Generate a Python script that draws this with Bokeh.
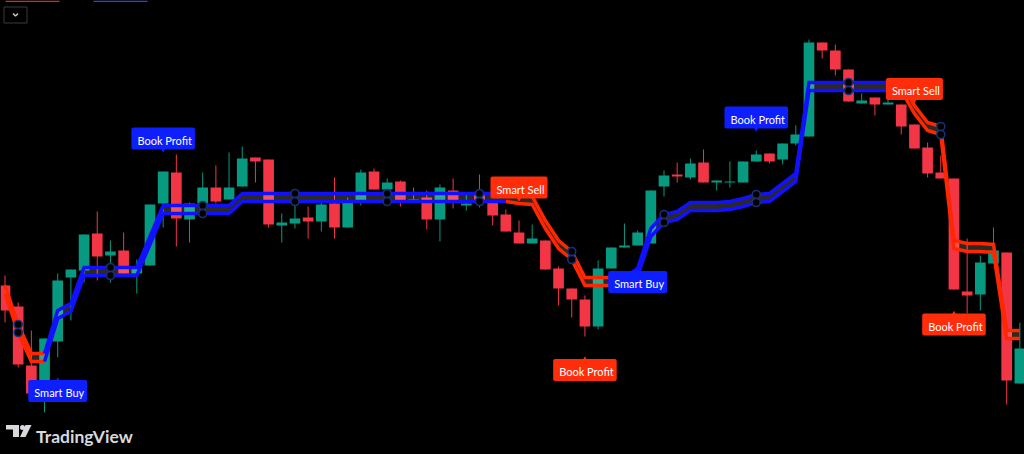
from bokeh.plotting import figure
from bokeh.models import Range1d, ColumnDataSource, GlobalInlineStyleSheet
from bokeh.core.properties import value
from bokeh.embed import file_html
from bokeh.resources import INLINE

# ---------------- data (price units) ----------------
opens = [169, 148, 89, 64, 113, 177, 184, 221, 199, 204,
         181, 189, 251, 282, 235, 251, 267, 255, 268, 297,
         295, 229, 231, 237, 233, 251, 227, 252, 283, 265,
         273, 255, 257, 235, 264, 249, 261, 254, 240, 222,
         211, 214, 186, 166, 155, 128, 186, 207, 209, 211,
         268, 280, 277, 292, 272, 272, 272, 293, 301, 295,
         311, 318, 412, 404, 385, 351, 357, 350, 350, 330,
         307, 282, 276, 163, 160, 191, 202, 71]
closes = [144, 90, 61, 116, 174, 185, 220, 198, 203, 181,
          187, 250, 283, 236, 251, 267, 253, 267, 296, 293,
          230, 232, 236, 233, 250, 227, 252, 282, 265, 272,
          253, 253, 235, 267, 254, 251, 253, 239, 223, 211,
          216, 185, 166, 155, 128, 186, 207, 209, 222, 264,
          279, 278, 291, 272, 274, 273, 293, 300, 293, 311,
          320, 412, 404, 385, 353, 354, 350, 352, 328, 306,
          281, 276, 165, 159, 192, 204, 74, 106]
highs = [179, 152, 124, 116, 181, 185, 220, 243, 214, 222,
         195, 250, 283, 300, 252, 282, 289, 302, 308, 297,
         295, 241, 249, 248, 252, 277, 257, 285, 286, 276,
         274, 267, 264, 270, 276, 261, 280, 254, 245, 234,
         230, 214, 188, 166, 159, 194, 207, 231, 224, 264,
         284, 292, 296, 305, 274, 293, 293, 304, 301, 311,
         329, 415, 412, 410, 385, 361, 357, 355, 350, 330,
         312, 299, 276, 216, 199, 227, 202, 132]
lows = [132, 87, 58, 42, 97, 134, 172, 174, 172, 181,
        161, 189, 227, 208, 212, 241, 251, 255, 268, 272,
        227, 212, 226, 216, 223, 216, 227, 249, 265, 265,
        248, 253, 225, 213, 246, 244, 247, 229, 223, 211,
        211, 185, 149, 137, 118, 125, 186, 207, 209, 211,
        258, 272, 275, 272, 264, 267, 272, 293, 291, 290,
        309, 318, 396, 379, 353, 351, 339, 350, 320, 306,
        277, 276, 165, 141, 144, 191, 50, 71]

# trailing stop (upper line) and trend (+1 long / -1 short)
stop = [169, 130, 101, 101, 144, 151, 187, 187, 187, 187,
        187, 218, 249, 249, 249, 249, 249, 249, 261, 261,
        261, 261, 261, 261, 261, 261, 261, 261, 261, 261,
        261, 261, 261, 261, 261, 261, 261, 261, 261, 259,
        258, 234, 214, 203, 177, 177, 177, 177, 186, 226,
        240, 243, 252, 252, 252, 253, 256, 260, 261, 271,
        281, 372, 372, 372, 372, 372, 372, 372, 372, 349,
        332, 328, 214, 211, 211, 210, 124, 124]
trend = [-1, -1, -1, -1, 1, 1, 1, 1, 1, 1,
         1, 1, 1, 1, 1, 1, 1, 1, 1, 1,
         1, 1, 1, 1, 1, 1, 1, 1, 1, 1,
         1, 1, 1, 1, 1, 1, 1, 1, 1, -1,
         -1, -1, -1, -1, -1, -1, -1, -1, 1, 1,
         1, 1, 1, 1, 1, 1, 1, 1, 1, 1,
         1, 1, 1, 1, 1, 1, 1, 1, 1, -1,
         -1, -1, -1, -1, -1, -1, -1, -1]
band_gap = 8
marker_bars = [1, 8, 15, 22, 29, 36, 43, 50, 57, 64, 71]

# signal labels
lab_bar = [4, 12, 39, 44, 48, 57, 69, 72]
lab_text = ["Smart Buy", "Book Profit", "Smart Sell", "Book Profit",
            "Smart Buy", "Book Profit", "Smart Sell", "Book Profit"]
lab_price = [77, 302, 253, 98, 186, 323, 351.5, 143.5]
lab_dir = [1, 1, -1, -1, 1, 1, -1, -1]          # long side (blue) / short side (red)
lab_side = ["below", "above", "above", "below", "below", "above", "above", "below"]

# ---------------- styling ----------------
UP, DN = "#089981", "#f23645"
BLUE_L, RED_L = "#1111ff", "#ff2600"
BLUE_T, RED_T = "#0d1eff", "#ff2d0a"
FONT = "Lato"
W, H = 1024, 454

n = len(opens)
idx = list(range(n))
X0, DX = 4.5, 13.18       # pixel position of bar 0 and bar spacing

p = figure(width=W, height=H,
           x_range=Range1d((0 - X0) / DX, (W - X0) / DX),
           y_range=Range1d(0, H),
           x_axis_type=None, y_axis_type=None,
           toolbar_location=None, output_backend="svg", min_border=0,
           background_fill_color="#000000", border_fill_color="#000000",
           stylesheets=[GlobalInlineStyleSheet(css="html,body{background:#000000;}")])
p.extra_x_ranges = {"px": Range1d(0, W)}
p.outline_line_color = None

# ---------------- candles ----------------
colors = [UP if c >= o else DN for o, c in zip(opens, closes)]
tops = [max(o, c) for o, c in zip(opens, closes)]
bots = [min(o, c) for o, c in zip(opens, closes)]
tops = [t if t - b >= 1 else b + 1 for t, b in zip(tops, bots)]
csrc = ColumnDataSource(dict(x=idx, top=tops, bottom=bots, high=highs, low=lows, color=colors))
p.segment(x0="x", y0="high", x1="x", y1="low", color="color", line_width=1, source=csrc)
p.vbar(x="x", width=0.81, top="top", bottom="bottom", fill_color="color", line_color=None, source=csrc)

# ---------------- trailing stop band ----------------
lower = [s - band_gap for s in stop]
p.varea(x=idx, y1=stop, y2=lower, fill_color="#fff5be", fill_alpha=0.17)

runs = []
start = 1
for i in range(2, n + 1):
    if i == n or trend[i] != trend[start]:
        runs.append((start - 1, i - 1, trend[start]))
        start = i
for a, b, t in runs:
    col = BLUE_L if t > 0 else RED_L
    xs = idx[a:b + 1]
    p.line(xs, stop[a:b + 1], line_color=col, line_width=3.5, line_join="miter")
    p.line(xs, lower[a:b + 1], line_color=col, line_width=3.5, line_join="miter")

mx = marker_bars
p.scatter(mx + mx, [stop[i] for i in mx] + [lower[i] for i in mx], size=8, marker="circle",
          fill_color="#000000", line_color="#1c2f75", line_width=1.6)

# ---------------- labels ----------------
lab_col = [BLUE_T if d > 0 else RED_T for d in lab_dir]
lab_off = [13.5 if s == "below" else -14 for s in lab_side]
tri_y = [pr - 5 if s == "below" else pr + 5 for pr, s in zip(lab_price, lab_side)]
tri_m = ["triangle" if s == "below" else "inverted_triangle" for s in lab_side]
lsrc = ColumnDataSource(dict(x=lab_bar, y=lab_price, ty=tri_y, m=tri_m, text=lab_text,
                             color=lab_col, off=lab_off))
p.scatter(x="x", y="ty", marker="m", size=9, fill_color="color", line_color=None, source=lsrc)
p.text(x="x", y="y", text="text", y_offset="off", source=lsrc,
       text_align="center", text_baseline="middle", text_color="#ffffff",
       text_font=value(FONT), text_font_size="11px",
       background_fill_color="color", padding=(6, 3, 6, 3), border_radius=2)

# ---------------- TradingView logo & top-left widgets ----------------
LOGO = "#d8d9dc"
p.quad(left=[5.5, 12.5], right=[18.5, 18.5], top=[29.5, 29.5], bottom=[25, 17.5],
       fill_color=LOGO, line_color=None, x_range_name="px")
p.scatter([22], [27], size=5, marker="circle", fill_color=LOGO, line_color=None, x_range_name="px")
p.patch([25, 31, 25, 19.5], [29.5, 29.5, 17.5, 17.5], fill_color=LOGO, line_color=None,
        x_range_name="px")
p.text(x=[35.5], y=[18.5], text=["TradingView"], text_align="left", text_baseline="alphabetic",
       text_color=LOGO, text_font=value(FONT), text_font_size="17.5px", text_font_style="bold",
       x_range_name="px")
p.quad(left=[3.5], right=[26.5], top=[447.5], bottom=[431.5], fill_color=None,
       line_color="#3a3a3a", line_width=1, x_range_name="px")
p.line([12.5, 15, 17.5], [441, 438.5, 441], line_color="#c8c8c8", line_width=1.5, x_range_name="px")
p.quad(left=[5, 93], right=[59, 147], top=[454, 454], bottom=[452.5, 452.5],
       fill_color=["#d12b2b", "#2a44e0"], line_color=None, x_range_name="px")

open("out.html", "w").write(file_html(p, INLINE))
